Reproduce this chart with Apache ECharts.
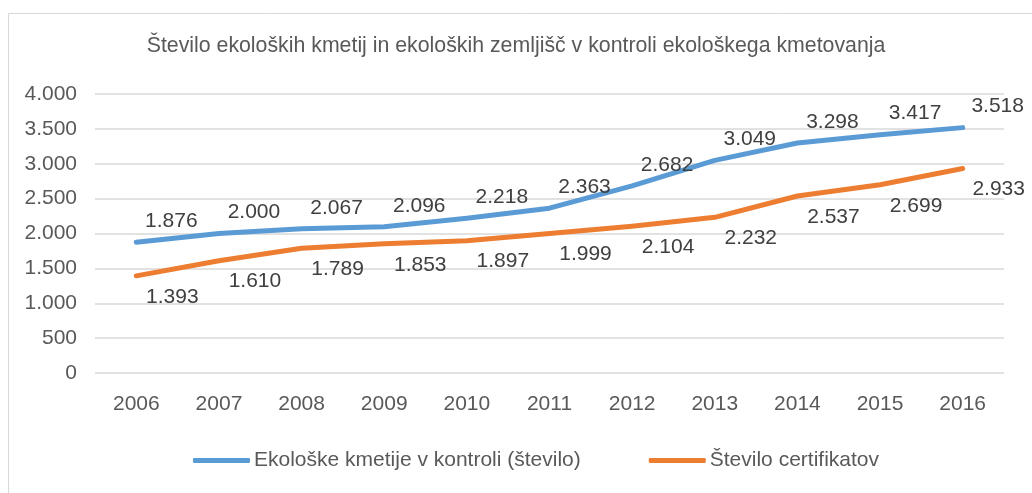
<!DOCTYPE html>
<html lang="sl">
<head>
    <meta charset="UTF-8">
    <title>Ekološke kmetije</title>
    <style>
        html, body { margin: 0; padding: 0; background: #fff; }
    </style>
</head>
<body>
    <div id="img" style="height: 493px; width: 1032px;"></div>

    <script src="https://cdn.jsdelivr.net/npm/echarts@6/dist/echarts.min.js"></script>
    <script type="text/javascript">
      var years = ['2006', '2007', '2008', '2009', '2010', '2011', '2012', '2013', '2014', '2015', '2016'];
      var kmetije = [1876, 2000, 2067, 2096, 2218, 2363, 2682, 3049, 3298, 3417, 3518];
      var certifikati = [1393, 1610, 1789, 1853, 1897, 1999, 2104, 2232, 2537, 2699, 2933];
      var seriesNames = ['Ekološke kmetije v kontroli (število)', 'Število certifikatov'];

      var fontFamily = '"Liberation Sans", Arial, sans-serif';

      // 1876 -> 1.876 (dot as thousands separator)
      var fmt = function (v) {
        return String(v).replace(/\B(?=(\d{3})+(?!\d))/g, '.');
      };

      var myChart = echarts.init(document.getElementById('img'));
      var option = {
        animation: false,
        graphic: [{
          type: 'rect',
          shape: { x: 8.5, y: 13.5, width: 1040, height: 500 },
          style: { fill: 'none', stroke: '#d9d9d9', lineWidth: 1 },
          silent: true
        }],
        title: {
          text: 'Število ekoloških kmetij in ekoloških zemljišč v kontroli ekološkega kmetovanja',
          left: 'center',
          top: 31,
          textStyle: { color: '#595959', fontSize: 21.3, fontWeight: 'normal', fontFamily: fontFamily }
        },
        legend: {
          top: 450,
          left: 193,
          padding: 0,
          itemWidth: 57,
          itemHeight: 5,
          itemGap: 68,
          icon: 'roundRect',
          data: seriesNames,
          textStyle: { color: '#595959', fontSize: 21, fontFamily: fontFamily, padding: [0, 0, 0, -1] }
        },
        grid: { left: 95, right: 28, top: 94, bottom: 120, containLabel: false },
        xAxis: {
          type: 'category',
          data: years,
          boundaryGap: true,
          axisLine: { show: false },
          axisTick: { show: false },
          axisLabel: { color: '#595959', fontSize: 21, margin: 21, fontFamily: fontFamily }
        },
        yAxis: {
          type: 'value',
          min: 0,
          max: 4000,
          interval: 500,
          axisLine: { show: false },
          axisTick: { show: false },
          splitLine: { lineStyle: { color: '#d9d9d9', width: 1.5 } },
          axisLabel: { color: '#595959', fontSize: 21, margin: 18, fontFamily: fontFamily, formatter: fmt }
        },
        series: [
          {
            name: seriesNames[0],
            type: 'line',
            data: kmetije,
            color: '#5b9bd5',
            symbol: 'circle',
            symbolSize: 3,
            showSymbol: true,
            lineStyle: { width: 5, cap: 'round', join: 'round' },
            label: {
              show: true,
              position: 'top',
              distance: 0,
              offset: [35, -9],
              color: '#404040',
              fontSize: 21,
              fontFamily: fontFamily,
              formatter: function (p) { return fmt(p.value); }
            }
          },
          {
            name: seriesNames[1],
            type: 'line',
            data: certifikati,
            color: '#ed7d31',
            symbol: 'circle',
            symbolSize: 3,
            showSymbol: true,
            lineStyle: { width: 5, cap: 'round', join: 'round' },
            label: {
              show: true,
              position: 'bottom',
              distance: 0,
              offset: [36, 9],
              color: '#404040',
              fontSize: 21,
              fontFamily: fontFamily,
              formatter: function (p) { return fmt(p.value); }
            }
          }
        ]
      };
      myChart.setOption(option);
    </script>
</body>
</html>
